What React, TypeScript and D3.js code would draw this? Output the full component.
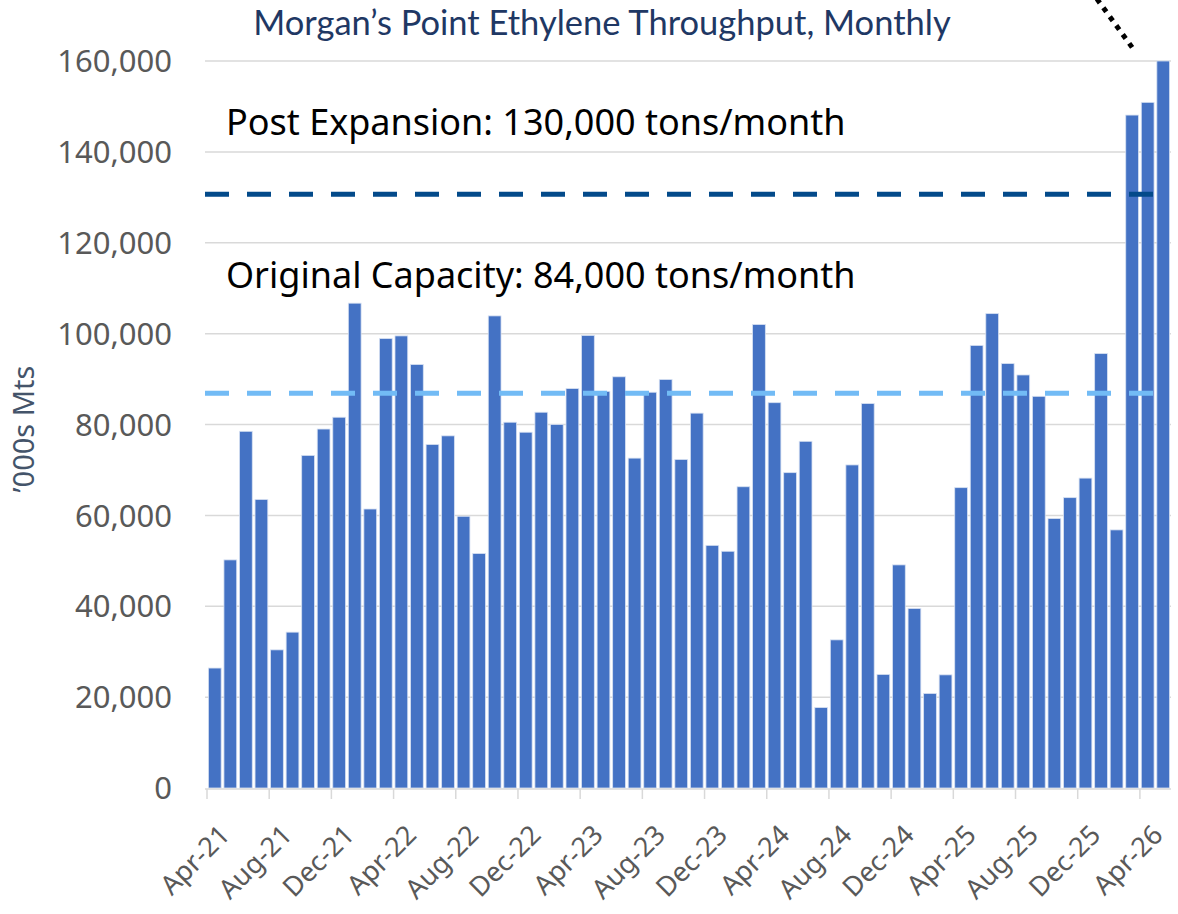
import * as d3 from "d3";
import React from "react";

// chart values
const startMonth = new Date(2021, 3, 1); // Apr-21
const endMonth = new Date(2026, 5, 1); // exclusive -> last bar May-26
const months = d3.timeMonth.range(startMonth, endMonth).map(d3.timeFormat("%b-%y"));

const throughput = [
  26400, 50200, 78500, 63500, 30400, 34300, 73200, 79000, 81600, 106700,
  61400, 98900, 99500, 93200, 75600, 77500, 59800, 51600, 103900, 80500,
  78300, 82700, 80000, 87900, 99600, 87300, 90500, 72600, 87100, 89900,
  72300, 82500, 53400, 52100, 66300, 102000, 84800, 69400, 76300, 17700,
  32600, 71100, 84600, 25000, 49100, 39500, 20800, 24900, 66100, 97400,
  104400, 93400, 90900, 86200, 59300, 63900, 68200, 95600, 56800, 148100,
  150900, 160000,
];

const yTicks = [0, 20000, 40000, 60000, 80000, 100000, 120000, 140000, 160000];

const capacityLines = [
  { label: "Post Expansion: 130,000 tons/month", value: 130700, color: "#034a8a", labelValue: 146400 },
  { label: "Original Capacity: 84,000 tons/month", value: 86900, color: "#72bbf5", labelValue: 112900 },
];

const leaderEnd = { month: "Mar-26", value: 163000 };

const title = "Morgan’s Point Ethylene Throughput, Monthly";
const yTitle = "’000s Mts";

const App = () => {
  const width = 1178;
  const height = 914;
  const left = 207;
  const right = 1171;
  const top = 61;
  const bottom = 788;

  const xScale = d3.scaleBand()
    .domain(months)
    .range([left, right])
    .paddingInner(0.18)
    .paddingOuter(0.09);

  const yScale = d3.scaleLinear()
    .domain([0, 160000])
    .range([bottom, top]);

  const step = xScale.step();
  const tickIdx = months.map((_, i) => i).filter(i => i % 4 === 0);
  const boundary = (i) => left + i * step;

  // dotted leader running off the top edge
  const lx2 = xScale(leaderEnd.month) + xScale.bandwidth() / 2;
  const ly2 = yScale(leaderEnd.value);
  const slope = 32 / 44;
  const lx1 = lx2 - (ly2 + 10) * slope;

  return (
    <svg width={width} height={height} style={{ position: "absolute", left: 0, top: 0, background: "#fff" }}>
      <text x={602} y={35} textAnchor="middle" fontFamily="Lato" fontSize={34.5} fill="#1f3864">{title}</text>

      {yTicks.map(t => (
        <g key={t}>
          {t > 0 && (
            <line x1={left - 2} x2={right} y1={yScale(t)} y2={yScale(t)} stroke="#d9d9d9" strokeWidth={1.5} />
          )}
          <text x={172} y={yScale(t)} dy="0.36em" textAnchor="end" fontFamily="Noto Sans" fontSize={31} fill="#595959">
            {d3.format(",")(t)}
          </text>
        </g>
      ))}

      <text transform={`translate(24,429) rotate(-90)`} textAnchor="middle" dy="0.35em"
        fontFamily="Noto Sans" fontSize={29} fill="#44546a">{yTitle}</text>

      {throughput.map((v, i) => (
        <rect key={months[i]} x={xScale(months[i])} y={yScale(v)} width={xScale.bandwidth()} height={bottom - yScale(v)}
          fill="#4472c4" stroke="#d6e0f2" strokeWidth={0.8} />
      ))}

      <line x1={left - 2} x2={right} y1={bottom + 1} y2={bottom + 1} stroke="#d9d9d9" strokeWidth={1.5} />
      {tickIdx.map(i => (
        <line key={i} x1={boundary(i)} x2={boundary(i)} y1={bottom + 1} y2={bottom + 11} stroke="#d9d9d9" strokeWidth={1.5} />
      ))}
      {tickIdx.map(i => {
        const cx = xScale(months[i]) + xScale.bandwidth() / 2;
        return (
          <text key={i} transform={`translate(${cx + 10},${bottom + 42}) rotate(-45)`} textAnchor="end" dy="0.35em"
            fontFamily="Noto Sans" fontSize={27} fill="#595959">{months[i]}</text>
        );
      })}

      {capacityLines.map(c => (
        <g key={c.label}>
          <line x1={left - 2} x2={right} y1={yScale(c.value)} y2={yScale(c.value)} stroke={c.color} strokeWidth={5}
            strokeDasharray="24 18" />
          <text x={226} y={yScale(c.labelValue)} dy="0.35em" fontFamily="Noto Sans" fontSize={36} fill="#000">{c.label}</text>
        </g>
      ))}

      <line x1={lx1} y1={-10} x2={lx2} y2={ly2} stroke="#000" strokeWidth={5} strokeDasharray="5 6" />
    </svg>
  );
};

export default App;
